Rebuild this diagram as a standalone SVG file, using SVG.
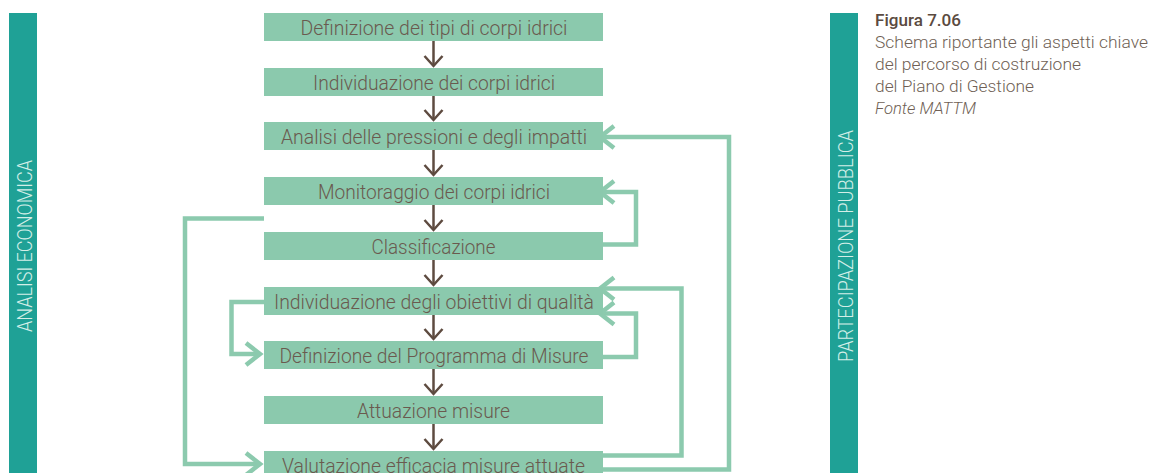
<svg xmlns="http://www.w3.org/2000/svg" width="1150" height="473" viewBox="0 0 1150 473">
<style>
.bar{fill:#1fa196}
.bartxt{font-family:Roboto,"Liberation Sans",sans-serif;font-weight:300;font-size:20px;fill:#d3eee7;text-anchor:middle}
.box{fill:#8bc9ad}
.btxt{font-family:Roboto,"Liberation Sans",sans-serif;font-weight:300;font-size:20px;fill:#6a5a4f;text-anchor:middle}
.down{stroke:#5e4b40;stroke-width:2.5;fill:none}
.loop{stroke:#8ccaae;stroke-width:4.5;fill:none;stroke-linejoin:miter}
.cap{font-family:Roboto,"Liberation Sans",sans-serif;font-size:16.5px;fill:#6f5f55;font-weight:300}
.capb{font-weight:500;fill:#5a4a40}
</style>
<defs>
<marker id="chev" markerUnits="userSpaceOnUse" viewBox="-20 -16 26 32" markerWidth="26" markerHeight="32" refX="0" refY="0" orient="auto" overflow="visible">
<path d="M-14,-11 L0,0 L-14,11" fill="none" stroke="#8ccaae" stroke-width="4.5"/>
</marker>
<marker id="dchev" markerUnits="userSpaceOnUse" viewBox="-14 -12 18 24" markerWidth="18" markerHeight="24" refX="0" refY="0" orient="auto" overflow="visible">
<path d="M-10,-9 L0,0 L-10,9" fill="none" stroke="#5e4b40" stroke-width="2.5"/>
</marker>
</defs>
<rect width="1150" height="473" fill="#ffffff"/>

<g id="analisi-economica">
<rect class="bar" x="9" y="13" width="28" height="460"/>
<text class="bartxt" transform="translate(31.5,246) rotate(-90)" x="0" y="0" textLength="172" lengthAdjust="spacingAndGlyphs">ANALISI ECONOMICA</text>
</g>
<g id="partecipazione-pubblica">
<rect class="bar" x="830" y="13" width="28" height="460"/>
<text class="bartxt" transform="translate(853,246) rotate(-90)" x="0" y="0" textLength="232" lengthAdjust="spacingAndGlyphs">PARTECIPAZIONE PUBBLICA</text>
</g>

<g id="connectors">
<path class="down" d="M433.5,41 V66" marker-end="url(#dchev)"/>
<path class="down" d="M433.5,96 V120" marker-end="url(#dchev)"/>
<path class="down" d="M433.5,150 V175" marker-end="url(#dchev)"/>
<path class="down" d="M433.5,205 V230" marker-end="url(#dchev)"/>
<path class="down" d="M433.5,260 V285" marker-end="url(#dchev)"/>
<path class="down" d="M433.5,315 V339" marker-end="url(#dchev)"/>
<path class="down" d="M433.5,369 V394" marker-end="url(#dchev)"/>
<path class="down" d="M433.5,424 V449" marker-end="url(#dchev)"/>
<path class="loop" d="M603,469.5 H729 V137 H600" marker-end="url(#chev)"/>
<path class="loop" d="M603,455.5 H681.5 V288.5 H600" marker-end="url(#chev)"/>
<path class="loop" d="M603,244.5 H636 V192 H600" marker-end="url(#chev)"/>
<path class="loop" d="M603,357 H636 V313.5 H600" marker-end="url(#chev)"/>
<path class="loop" d="M264,218.5 H185 V464 H260" marker-end="url(#chev)"/>
<path class="loop" d="M264,302 H231.5 V354 H260" marker-end="url(#chev)"/>
</g>

<g id="n1"><rect class="box" x="264" y="13" width="339" height="28"/><text class="btxt" x="434" y="35" textLength="267" lengthAdjust="spacingAndGlyphs">Definizione dei tipi di corpi idrici</text></g>
<g id="n2"><rect class="box" x="264" y="68" width="339" height="28"/><text class="btxt" x="434" y="90" textLength="242" lengthAdjust="spacingAndGlyphs">Individuazione dei corpi idrici</text></g>
<g id="n3"><rect class="box" x="264" y="122" width="339" height="28"/><text class="btxt" x="434" y="144" textLength="306" lengthAdjust="spacingAndGlyphs">Analisi delle pressioni e degli impatti</text></g>
<g id="n4"><rect class="box" x="264" y="177" width="339" height="28"/><text class="btxt" x="434" y="199" textLength="232" lengthAdjust="spacingAndGlyphs">Monitoraggio dei corpi idrici</text></g>
<g id="n5"><rect class="box" x="264" y="232" width="339" height="28"/><text class="btxt" x="433.5" y="254" textLength="124" lengthAdjust="spacingAndGlyphs">Classificazione</text></g>
<g id="n6"><rect class="box" x="264" y="287" width="339" height="28"/><text class="btxt" x="434" y="309" textLength="320" lengthAdjust="spacingAndGlyphs">Individuazione degli obiettivi di qualità</text></g>
<g id="n7"><rect class="box" x="264" y="341" width="339" height="28"/><text class="btxt" x="434" y="363" textLength="309" lengthAdjust="spacingAndGlyphs">Definizione del Programma di Misure</text></g>
<g id="n8"><rect class="box" x="264" y="396" width="339" height="28"/><text class="btxt" x="433.5" y="418" textLength="153" lengthAdjust="spacingAndGlyphs">Attuazione misure</text></g>
<g id="n9"><rect class="box" x="264" y="451" width="339" height="28"/><text class="btxt" x="433.5" y="473" textLength="303" lengthAdjust="spacingAndGlyphs">Valutazione efficacia misure attuate</text></g>

<g id="caption">
<text class="cap capb" x="875" y="26" textLength="86" lengthAdjust="spacingAndGlyphs">Figura 7.06</text>
<text class="cap" x="875" y="48" textLength="273" lengthAdjust="spacingAndGlyphs">Schema riportante gli aspetti chiave</text>
<text class="cap" x="875" y="70" textLength="206" lengthAdjust="spacingAndGlyphs">del percorso di costruzione</text>
<text class="cap" x="875" y="92" textLength="159" lengthAdjust="spacingAndGlyphs">del Piano di Gestione</text>
<text class="cap" x="875" y="114" textLength="101" lengthAdjust="spacingAndGlyphs" font-style="italic">Fonte MATTM</text>
</g>
</svg>
